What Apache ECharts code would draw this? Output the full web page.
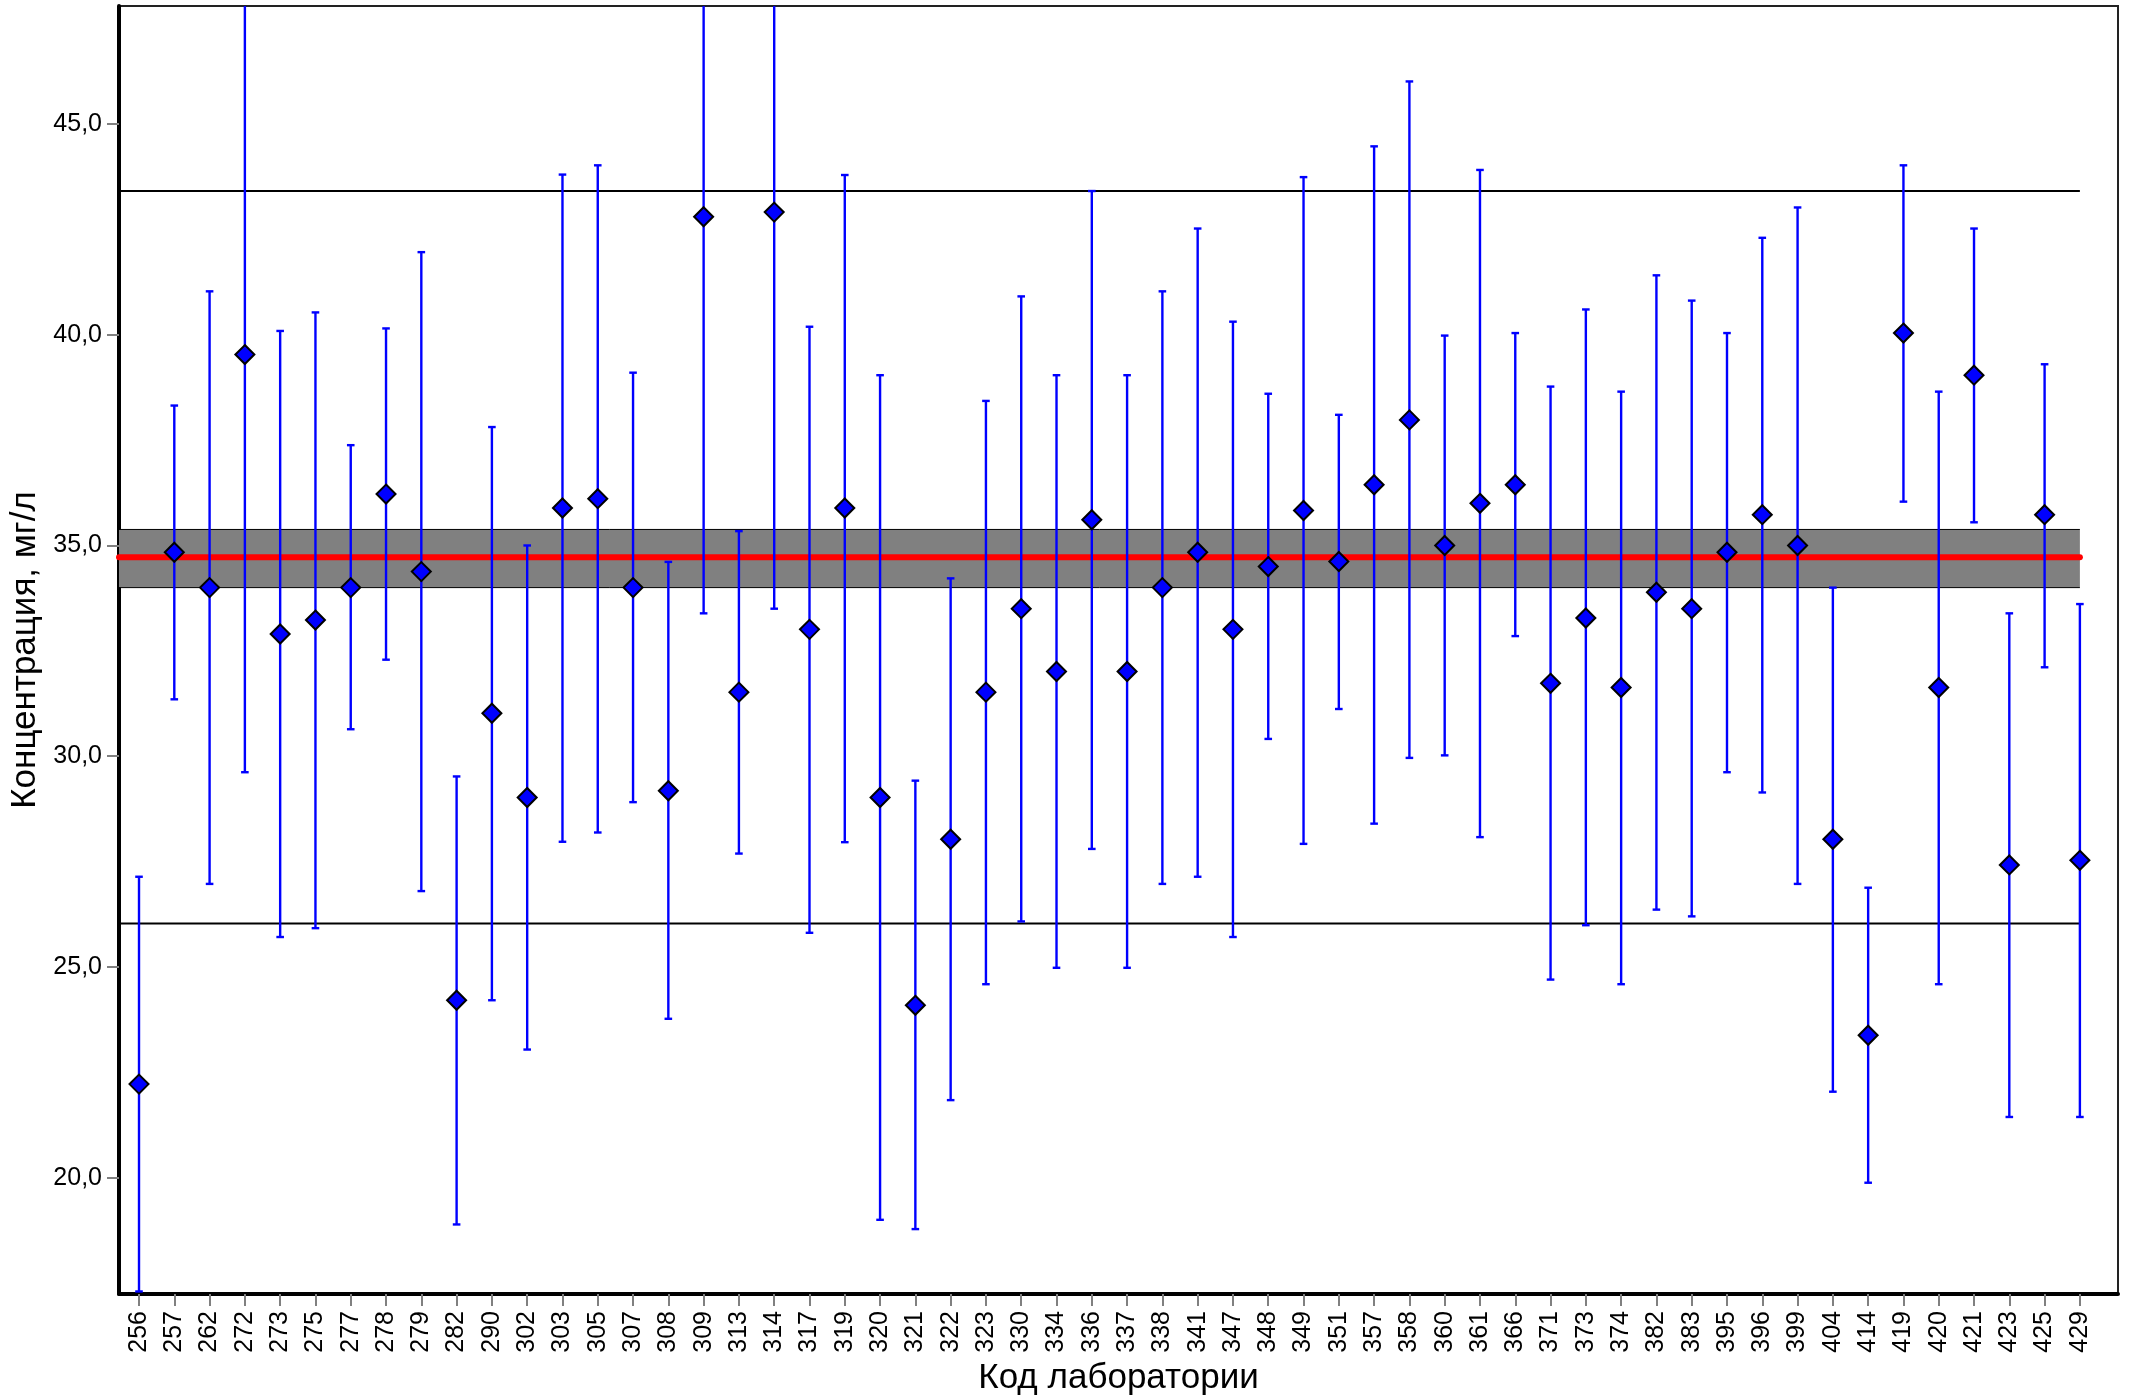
<!DOCTYPE html>
<html>
<head>
<meta charset="utf-8">
<script src="https://cdn.jsdelivr.net/npm/echarts@6/dist/echarts.min.js"></script>
<style>
html,body{margin:0;padding:0;background:#fff;}
#c{width:2134px;height:1396px;}
</style>
</head>
<body>
<div id="c"></div>
<script>
// ---- data ----
const labs = ['256','257','262','272','273','275','277','278','279','282','290','302','303','305','307','308','309','313','314','317','319','320','321','322','323','330','334','336','337','338','341','347','348','349','351','357','358','360','361','366','371','373','374','382','383','395','396','399','404','414','419','420','421','423','425','429'];
const values = [22.22,34.84,34.00,39.53,32.90,33.23,34.00,36.22,34.38,24.21,31.02,29.02,35.89,36.11,34.00,29.18,42.80,31.52,42.91,33.01,35.89,29.02,24.09,28.03,31.52,33.50,32.01,35.61,32.01,34.00,34.84,33.01,34.50,35.83,34.62,36.44,37.98,35.00,36.00,36.44,31.73,33.28,31.63,33.89,33.50,34.84,35.73,35.00,28.03,23.38,40.04,31.63,39.04,27.42,35.73,27.53];
const upper = [27.14,38.32,41.03,49.44,40.09,40.53,37.38,40.15,41.96,29.52,37.81,35.00,43.80,44.02,39.10,34.61,52.21,35.34,52.32,40.19,43.79,39.04,29.42,34.22,38.43,40.91,39.04,43.41,39.04,41.03,42.52,40.31,38.60,43.74,38.10,44.47,46.01,39.98,43.91,40.04,38.77,40.60,38.65,41.41,40.81,40.04,42.30,43.02,34.00,26.88,44.02,38.65,42.52,33.39,39.30,33.61];
const lower = [17.30,31.35,26.97,29.62,25.71,25.92,30.64,32.29,26.80,18.89,24.21,23.04,27.97,28.19,28.91,23.77,33.39,27.69,33.50,25.81,27.96,19.00,18.78,21.84,24.59,26.08,24.98,27.80,24.98,26.97,27.14,25.71,30.41,27.92,31.12,28.40,29.96,30.02,28.08,32.85,24.70,25.99,24.59,26.36,26.20,29.62,29.14,26.97,22.04,19.88,36.04,24.59,35.55,21.44,32.11,21.44];
const yTicks = [20,25,30,35,40,45];
const assigned = 34.72;
const bandLow = 34.00, bandHigh = 35.38;
const limitLow = 26.03, limitHigh = 43.41;

// ---- chart ----
const FONT = 'Liberation Sans, Arial, sans-serif';
const X_MIN = -0.567, X_MAX = 56.08;
const lastIdx = labs.length - 1;
const idx = labs.map((_, i) => i);

const chart = echarts.init(document.getElementById('c'), null, {renderer: 'canvas'});

function hline(v, color, width, cap) {
  return {
    type: 'line',
    data: [[X_MIN, v], [lastIdx, v]],
    symbol: 'none',
    silent: true,
    lineStyle: {color: color, width: width, cap: cap || 'butt'},
    z: 3
  };
}

const option = {
  animation: false,
  backgroundColor: '#fff',
  textStyle: {fontFamily: FONT},
  grid: {
    left: 119, right: 16, top: 6, bottom: 102,
    containLabel: false,
    outerBoundsMode: 'none',
    show: true, borderColor: '#222', borderWidth: 2, backgroundColor: 'transparent'
  },
  xAxis: {
    type: 'value',
    min: X_MIN, max: X_MAX,
    name: 'Код лаборатории',
    nameLocation: 'middle',
    nameGap: 62,
    nameTextStyle: {fontSize: 35, color: '#000', fontFamily: FONT},
    splitLine: {show: false},
    axisLine: {show: true, onZero: false, lineStyle: {color: '#000', width: 4}},
    axisTick: {show: true, customValues: idx, length: 12, lineStyle: {color: '#808080', width: 2}},
    axisLabel: {
      customValues: idx, rotate: 90, margin: 17, fontSize: 25, color: '#000', fontFamily: FONT,
      formatter: v => labs[Math.round(v)]
    }
  },
  yAxis: {
    type: 'value',
    min: 17.24, max: 47.80,
    name: 'Концентрация, мг/л',
    nameLocation: 'middle',
    nameGap: 76,
    nameTextStyle: {fontSize: 35, color: '#000', fontFamily: FONT},
    splitLine: {show: false},
    axisLine: {show: true, onZero: false, lineStyle: {color: '#000', width: 4}},
    axisTick: {show: true, customValues: yTicks, length: 12, lineStyle: {color: '#808080', width: 2}},
    axisLabel: {
      customValues: yTicks, margin: 17, fontSize: 25, color: '#000', fontFamily: FONT,
      formatter: v => v.toFixed(1).replace('.', ',')
    }
  },
  series: [
    {
      type: 'custom',
      silent: true,
      z: 1,
      clip: true,
      data: [[bandLow, bandHigh]],
      renderItem: function (params, api) {
        const lo = api.value(0), hi = api.value(1);
        const p1 = api.coord([X_MIN, hi]);
        const p2 = api.coord([lastIdx, lo]);
        return {
          type: 'group',
          children: [
            {type: 'rect', shape: {x: p1[0], y: p1[1], width: p2[0] - p1[0], height: p2[1] - p1[1]}, style: {fill: '#808080'}},
            {type: 'line', shape: {x1: p1[0], y1: p1[1], x2: p2[0], y2: p1[1]}, style: {stroke: '#000', lineWidth: 1}},
            {type: 'line', shape: {x1: p1[0], y1: p2[1], x2: p2[0], y2: p2[1]}, style: {stroke: '#000', lineWidth: 1}}
          ]
        };
      }
    },
    hline(limitHigh, '#000', 2),
    hline(limitLow, '#000', 2),
    hline(assigned, '#ff0000', 6, 'round'),
    {
      type: 'custom',
      silent: true,
      z: 5,
      clip: true,
      data: labs.map((_, i) => [i, lower[i], upper[i]]),
      renderItem: function (params, api) {
        const x = api.value(0), lo = api.value(1), hi = api.value(2);
        const a = api.coord([x, lo]), b = api.coord([x, hi]);
        const cw = 3.8;
        const st = {stroke: '#0000ff', lineWidth: 2.4};
        return {
          type: 'group',
          children: [
            {type: 'line', shape: {x1: a[0], y1: a[1], x2: b[0], y2: b[1]}, style: st},
            {type: 'line', shape: {x1: a[0] - cw, y1: a[1], x2: a[0] + cw, y2: a[1]}, style: st},
            {type: 'line', shape: {x1: b[0] - cw, y1: b[1], x2: b[0] + cw, y2: b[1]}, style: st}
          ]
        };
      }
    },
    {
      type: 'scatter',
      z: 6,
      silent: true,
      symbol: 'diamond',
      symbolSize: 19,
      data: values.map((v, i) => [i, v]),
      itemStyle: {color: '#0000ff', borderColor: '#000', borderWidth: 2, opacity: 1}
    }
  ]
};
chart.setOption(option);
</script>
</body>
</html>
